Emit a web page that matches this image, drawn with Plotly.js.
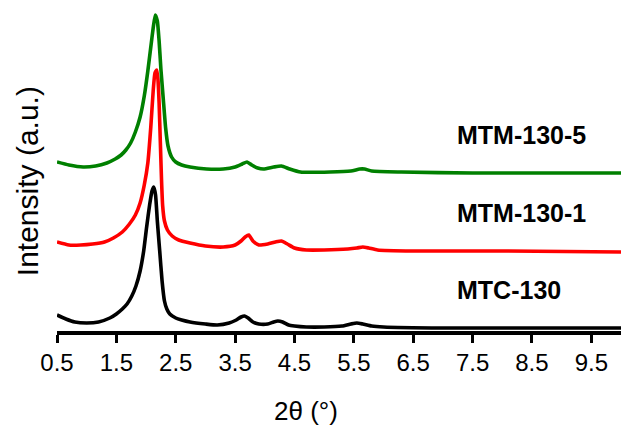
<!DOCTYPE html>
<html>
<head>
<meta charset="utf-8">
<script src="https://cdn.plot.ly/plotly-3.0.1.min.js"></script>
<style>html,body{margin:0;padding:0;background:#fff;}#chart{width:621px;height:426px;}</style>
</head>
<body>
<div id="chart"></div>
<script>
// 2-theta values (degrees) and offset intensities (a.u.)
const mtcX = [0.5,0.65,0.8,1.0,1.2,1.39,1.5,1.6,1.68,1.76,1.83,1.9,1.96,2.01,2.06,2.1,2.13,2.16,2.19,2.23,2.27,2.31,2.35,2.4,2.5,2.6,2.74,3.0,3.2,3.4,3.52,3.6,3.66,3.72,3.8,3.9,4.05,4.15,4.22,4.3,4.4,4.5,4.7,5.0,5.3,5.45,5.55,5.65,5.8,6.0,7.0,8.0,9.0,10.0];
const mtcY = [16,12,9,8,9,13,17,22,27,35,45,60,80,104,126,140,144,136,110,80,50,30,22,17,13,11,9,7,6,8,11,14,15,13,9,7,7,9,10,9,6,5,4,4,5,7,8,7,5,4,3,3,3,3];

const m1X = [0.5,0.7,0.9,1.1,1.3,1.45,1.6,1.72,1.82,1.9,1.97,2.03,2.08,2.12,2.15,2.18,2.2,2.22,2.24,2.26,2.28,2.31,2.36,2.44,2.55,2.74,3.0,3.3,3.5,3.6,3.67,3.73,3.8,3.9,4.05,4.18,4.28,4.38,4.5,4.7,5.0,5.4,5.55,5.65,5.75,5.9,6.5,8.0,10.0];
const m1Y = [89,86,86,87,89,93,99,107,116,128,146,168,204,240,258,261,252,228,190,152,125,110,101,95,91,88,85,84,86,90,94,96,90,86,87,89,90,87,83,81,81,82,83,84,83,81,80,80,79];

const m5X = [0.5,0.7,0.94,1.15,1.34,1.48,1.58,1.66,1.74,1.82,1.9,1.97,2.03,2.08,2.12,2.155,2.19,2.22,2.25,2.29,2.33,2.37,2.43,2.5,2.6,2.74,3.02,3.3,3.5,3.62,3.7,3.78,3.88,3.98,4.15,4.28,4.42,4.6,5.1,5.45,5.6,5.68,5.8,6.3,7.5,10.0];
const m5Y = [169,166,164,165,168,172,176,181,188,199,214,235,260,284,303,316,310,290,262,232,203,185,174,169,166,164,162,162,164,167,169,166,163,162,164,165,162,159,159,160,162,162,160,159,158,158];

const names = ['MTC-130','MTM-130-1','MTM-130-5'];
const colors = ['#000000','#ff0000','#008000'];
const tickVals = [0.5,1.5,2.5,3.5,4.5,5.5,6.5,7.5,8.5,9.5];
const tickText = ['0.5','1.5','2.5','3.5','4.5','5.5','6.5','7.5','8.5','9.5'];
const labelY = [41,118,196];

const xs = [mtcX, m1X, m5X];
const ys = [mtcY, m1Y, m5Y];
const traces = names.map((n,i)=>({
  x: xs[i], y: ys[i], name: n, type: 'scatter', mode: 'lines',
  line: {color: colors[i], width: 3.6, shape: 'spline', smoothing: 0.5},
  hoverinfo: 'x+y+name'
}));

const font = 'Arial, "Liberation Sans", sans-serif';
const annotations = names.map((n,i)=>({
  x: 7.2, y: labelY[i], xref: 'x', yref: 'y', text: '<b>'+n+'</b>',
  showarrow: false, xanchor: 'left', yanchor: 'middle',
  font: {family: font, size: 25, color: '#000'}
}));
// axis titles
annotations.push({
  xref: 'paper', yref: 'paper', x: 0.4415, y: -0.2417, xanchor: 'center', yanchor: 'middle',
  text: '2θ (°)', showarrow: false, borderpad: 0,
  font: {family: font, size: 26, color: '#000'}
});
annotations.push({
  xref: 'paper', yref: 'paper', x: -0.053, y: 0.453, xanchor: 'center', yanchor: 'middle',
  text: 'Intensity (a.u.)', textangle: -90, showarrow: false, borderpad: 0,
  font: {family: font, size: 30, color: '#000'}
});

const layout = {
  width: 621, height: 426,
  margin: {l: 57, r: 0, t: 0, b: 95, pad: 0},
  paper_bgcolor: '#fff', plot_bgcolor: '#fff',
  showlegend: false,
  font: {family: font, color: '#000'},
  xaxis: {
    range: [0.5, 10], tickvals: tickVals, ticktext: tickText,
    showline: true, linecolor: '#000', linewidth: 3.5,
    ticks: 'outside', ticklen: 8, tickwidth: 3, tickcolor: '#000',
    showgrid: false, zeroline: false,
    tickfont: {family: font, size: 24, color: '#000'},
    automargin: false
  },
  yaxis: {
    range: [0, 331], showline: false, showticklabels: false, ticks: '',
    showgrid: false, zeroline: false,
    automargin: false
  },
  annotations: annotations
};

Plotly.newPlot('chart', traces, layout, {displayModeBar: false, staticPlot: true});
</script>
</body>
</html>
